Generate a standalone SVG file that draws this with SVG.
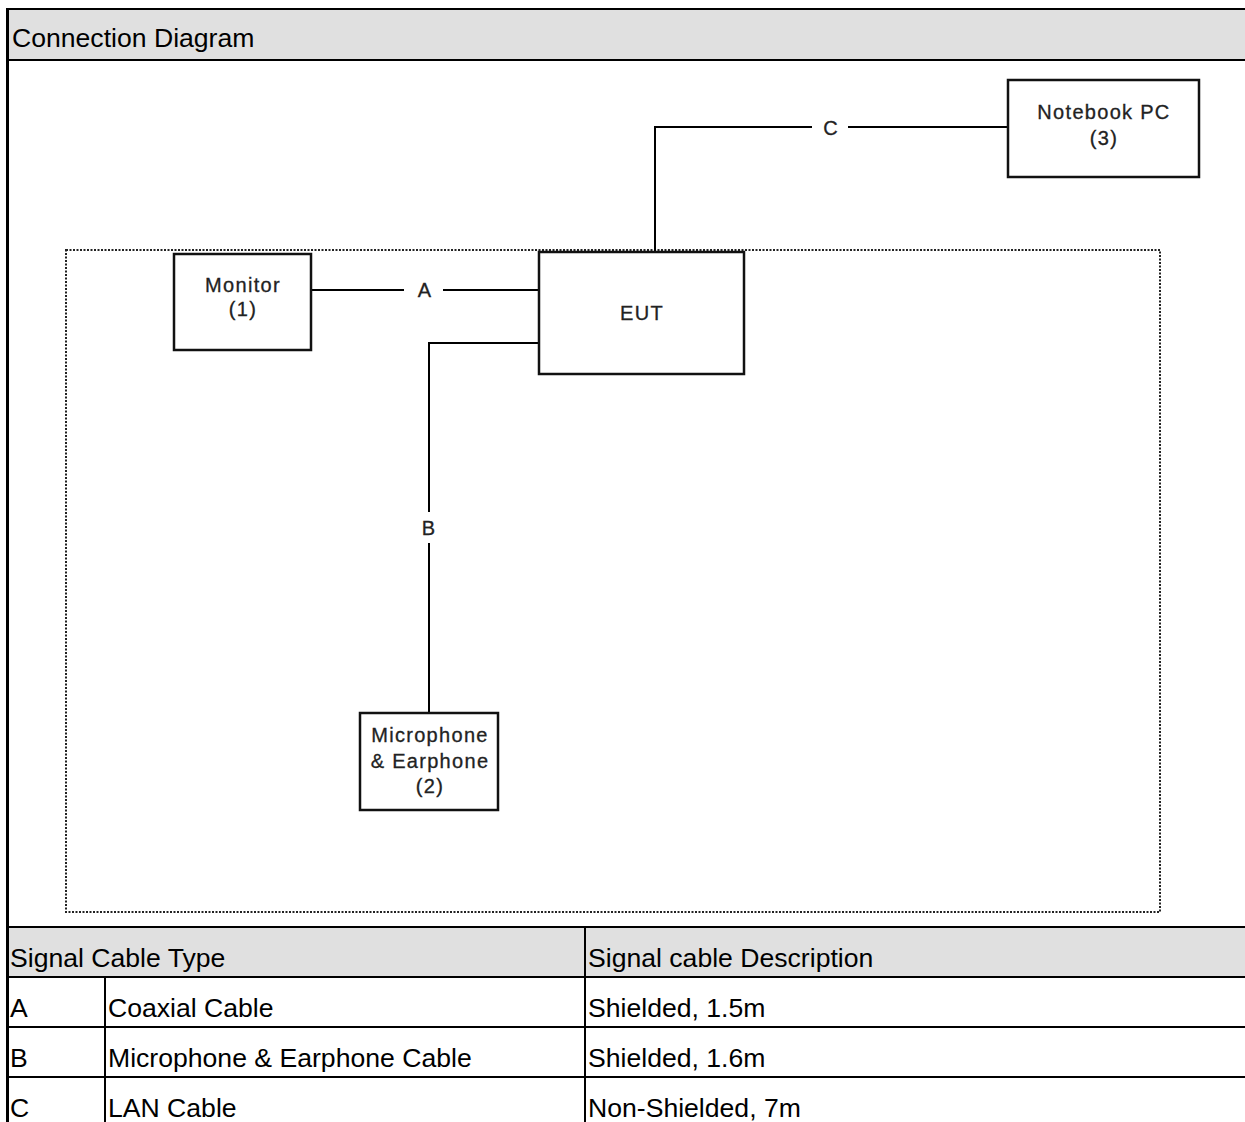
<svg xmlns="http://www.w3.org/2000/svg" width="1245" height="1122" viewBox="0 0 1245 1122">
<style>
.t{font-family:"Liberation Sans",Arial,sans-serif;font-size:26.6px;fill:#000}
.n{font-family:"Liberation Sans",Arial,sans-serif;font-size:20px;letter-spacing:1.3px;fill:#222;stroke:#222;stroke-width:0.3;text-anchor:middle}
.box{fill:#fff;stroke:#111;stroke-width:2.5}
.ln{stroke:#000;stroke-width:2;fill:none}
.g{fill:#e0e0e0}
</style>
<rect x="0" y="0" width="1245" height="1122" fill="#fff"/>
<g id="frame">
<rect class="g" x="8" y="9" width="1237" height="51"/>
<rect class="g" x="8" y="927" width="1237" height="50"/>
<line class="ln" x1="7" y1="9" x2="1245" y2="9"/>
<line class="ln" x1="8" y1="60" x2="1245" y2="60"/>
<line class="ln" x1="8" y1="927" x2="1245" y2="927"/>
<line class="ln" x1="8" y1="977" x2="1245" y2="977"/>
<line class="ln" x1="8" y1="1027" x2="1245" y2="1027"/>
<line class="ln" x1="8" y1="1077" x2="1245" y2="1077"/>
<line class="ln" x1="105" y1="977" x2="105" y2="1122"/>
<line class="ln" x1="585" y1="927" x2="585" y2="1122"/>
<line x1="7.5" y1="8" x2="7.5" y2="1122" stroke="#000" stroke-width="3"/>
<text class="t" x="12" y="47">Connection Diagram</text>
<text class="t" x="10" y="967">Signal Cable Type</text>
<text class="t" x="588" y="967">Signal cable Description</text>
<text class="t" x="10" y="1017">A</text>
<text class="t" x="108" y="1017">Coaxial Cable</text>
<text class="t" x="588" y="1017">Shielded, 1.5m</text>
<text class="t" x="10" y="1067">B</text>
<text class="t" x="108" y="1067">Microphone &amp; Earphone Cable</text>
<text class="t" x="588" y="1067">Shielded, 1.6m</text>
<text class="t" x="10" y="1117">C</text>
<text class="t" x="108" y="1117">LAN Cable</text>
<text class="t" x="588" y="1117">Non-Shielded, 7m</text>
</g>
<rect id="area" x="66" y="250" width="1094" height="662" fill="none" stroke="#222" stroke-width="2" stroke-dasharray="2 1.5"/>
<g id="connectors">
<path class="ln" d="M311 290 H404 M443 290 H539"/>
<path class="ln" d="M539 343 H429 V512 M429 543 V713"/>
<path class="ln" d="M655 252 V127 H812 M848 127 H1008"/>
<text class="n" x="425" y="297">A</text>
<text class="n" x="429" y="535">B</text>
<text class="n" x="831" y="135">C</text>
</g>
<g id="eut">
<rect class="box" x="539" y="252" width="205" height="122"/>
<text class="n" x="642" y="320">EUT</text>
</g>
<g id="monitor">
<rect class="box" x="174" y="254" width="137" height="96"/>
<text class="n" x="243" y="292">Monitor</text>
<text class="n" x="243" y="316">(1)</text>
</g>
<g id="mic">
<rect class="box" x="360" y="713" width="138" height="97"/>
<text class="n" x="430" y="742">Microphone</text>
<text class="n" x="430" y="768">&amp; Earphone</text>
<text class="n" x="430" y="793">(2)</text>
</g>
<g id="notebook">
<rect class="box" x="1008" y="80" width="191" height="97"/>
<text class="n" x="1104" y="119">Notebook PC</text>
<text class="n" x="1104" y="145">(3)</text>
</g>
</svg>
